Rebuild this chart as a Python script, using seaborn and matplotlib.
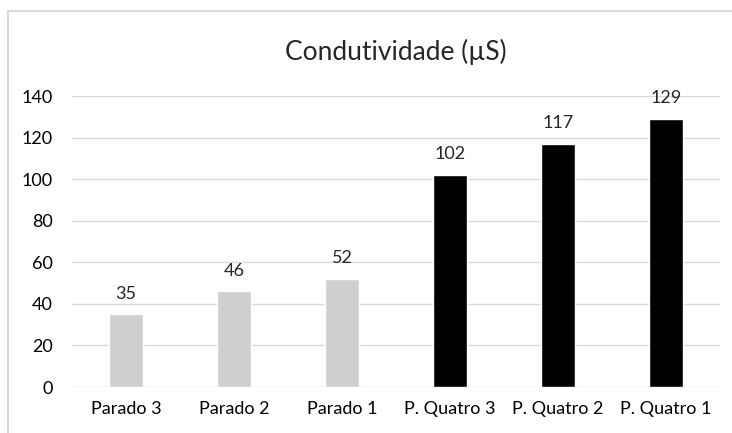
import pandas as pd
import seaborn as sns
import matplotlib.pyplot as plt
from matplotlib.patches import Rectangle

# datos del grafico
categorias = ['Parado 3', 'Parado 2', 'Parado 1', 'P. Quatro 3', 'P. Quatro 2', 'P. Quatro 1']
valores = [35, 46, 52, 102, 117, 129]
grupo = ['Parado', 'Parado', 'Parado', 'Quatro', 'Quatro', 'Quatro']
colores = {'Parado': '#D0CECE', 'Quatro': '#000000'}

df = pd.DataFrame({'cat': categorias, 'val': valores, 'grupo': grupo})

sns.set_style('white')
plt.rcParams['font.family'] = ['Lato', 'DejaVu Sans']

fig = plt.figure(figsize=(7.32, 4.33), dpi=100)
ax = fig.add_axes([72 / 732, 1 - 387 / 433, 648 / 732, 291 / 433])

sns.barplot(data=df, x='cat', y='val', hue='grupo', palette=colores,
            dodge=False, width=0.31, legend=False, ax=ax)

ax.set_ylim(0, 140)
ax.set_yticks(range(0, 141, 20))
ax.yaxis.grid(True, color='#D9D9D9', linewidth=1)
ax.set_axisbelow(True)
for s in ax.spines.values():
    s.set_visible(False)
ax.set_xlabel('')
ax.set_ylabel('')
ax.tick_params(axis='both', length=0, labelsize=13, colors='#000000')
ax.tick_params(axis='y', pad=14)
ax.tick_params(axis='x', pad=10)

# etiquetas de valores
for cont in ax.containers:
    ax.bar_label(cont, fmt='%d', padding=9, fontsize=13)

ax.set_title('Condutividade (µS)', fontsize=19, pad=26)

# marco del grafico
fig.add_artist(Rectangle((8 / 732, -0.2), 2, 1.2 - 11 / 433, transform=fig.transFigure,
                         fill=False, edgecolor='#D9D9D9', linewidth=1.5))

fig.savefig('out.png', dpi=100)
